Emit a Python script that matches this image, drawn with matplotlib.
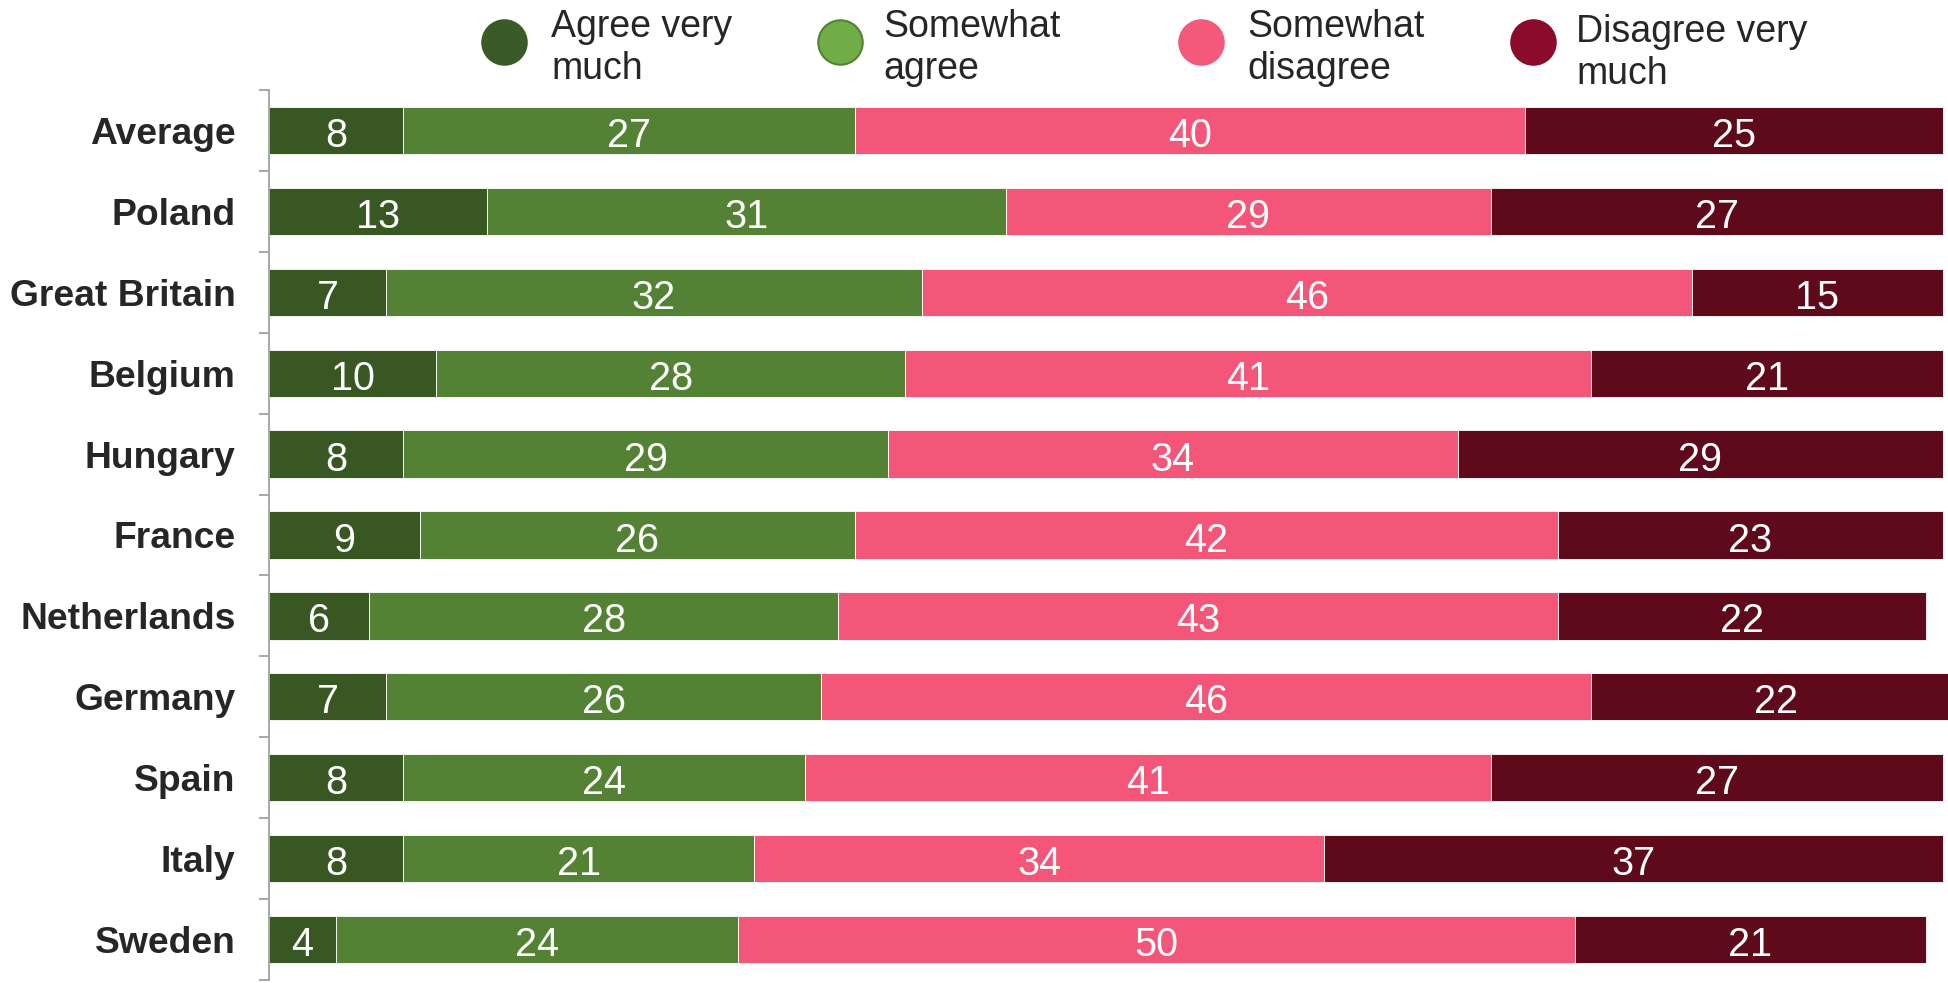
import matplotlib.pyplot as plt
from matplotlib.lines import Line2D
import numpy as np

plt.rcParams['font.family'] = ['Liberation Sans', 'DejaVu Sans']

countries = ["Average", "Poland", "Great Britain", "Belgium", "Hungary", "France",
             "Netherlands", "Germany", "Spain", "Italy", "Sweden"]
agree_very = [8, 13, 7, 10, 8, 9, 6, 7, 8, 8, 4]
somewhat_agree = [27, 31, 32, 28, 29, 26, 28, 26, 24, 21, 24]
somewhat_disagree = [40, 29, 46, 41, 34, 42, 43, 46, 41, 34, 50]
disagree_very = [25, 27, 15, 21, 29, 23, 22, 22, 27, 37, 21]
legend_labels = ["Agree very\nmuch", "Somewhat\nagree", "Somewhat\ndisagree", "Disagree very\nmuch"]

bar_colors = ["#385723", "#548235", "#F4567A", "#5E0A1B"]
legend_face = ["#3A5A28", "#70AD47", "#F4587A", "#8B0C2A"]
legend_edge = ["#3A5A28", "#548235", "#F4587A", "#8B0C2A"]

fig = plt.figure(figsize=(19.49, 9.83), dpi=100)
ax = fig.add_axes([269 / 1949, 3 / 983, (1943 - 269) / 1949, (980 - 90) / 983])

series = [agree_very, somewhat_agree, somewhat_disagree, disagree_very]
y = np.arange(len(countries))
left = np.zeros(len(countries))
for vals, col in zip(series, bar_colors):
    vals = np.array(vals, dtype=float)
    ax.barh(y, vals, left=left, height=0.585, color=col,
            edgecolor="white", linewidth=0.6, clip_on=False)
    for yi, l, v in zip(y, left, vals):
        ax.text(l + v / 2, yi + 0.204, f"{int(v)}", ha="center", va="baseline",
                color="white", fontsize=28.5)
    left += vals

ax.set_xlim(0, 100)
ax.set_ylim(len(countries) - 0.5, -0.5)
ax.set_yticks(y)
ax.set_yticklabels(countries, fontsize=26.8, fontweight="bold", color="#262626")
ax.set_yticks(np.arange(-0.5, len(countries)), minor=True)
ax.tick_params(axis="y", which="major", length=0, pad=24)
ax.tick_params(axis="y", which="minor", length=7.5, width=1.3, color="#A0A0A0")
ax.set_xticks([])
for s in ["top", "right", "bottom"]:
    ax.spines[s].set_visible(False)
ax.spines["left"].set_color("#A0A0A0")
ax.spines["left"].set_linewidth(1.3)

# legend (va=baseline puts the last line on the given y)
marker_x = [504, 840, 1201, 1533]
text_x = [551, 883, 1247, 1576]
base_y = [79, 79, 79, 83.5]
for lab, mx, tx, by, fc, ec in zip(legend_labels, marker_x, text_x, base_y, legend_face, legend_edge):
    fig.add_artist(Line2D([mx / 1949], [1 - 42 / 983], marker="o", markersize=32,
                          markerfacecolor=fc, markeredgecolor=ec, markeredgewidth=1.5,
                          transform=fig.transFigure, linestyle="none"))
    fig.text(tx / 1949, 1 - by / 983, lab, ha="left", va="baseline", fontsize=27,
             color="#262626", linespacing=1.2)

fig.savefig("out.png", dpi=100)
